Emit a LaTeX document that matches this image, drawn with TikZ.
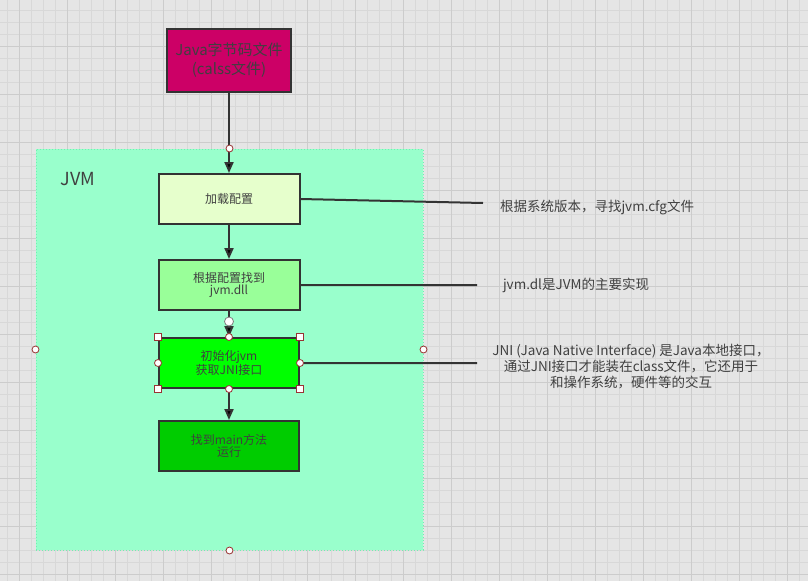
\documentclass[tikz,border=0pt]{standalone}
\usepackage{fontspec}
\setmainfont{Noto Sans CJK SC}
\usetikzlibrary{arrows.meta}
\definecolor{bggray}{HTML}{E5E5E5}
\definecolor{minorgrid}{HTML}{D8D8D8}
\definecolor{majorgrid}{HTML}{CCCCCC}
\definecolor{jvmgreen}{HTML}{99FFCC}
\definecolor{jvmedge}{HTML}{70F0B0}
\definecolor{inkgray}{HTML}{333333}
\definecolor{textgray}{HTML}{404040}
\definecolor{classfill}{HTML}{CC0066}
\definecolor{loadfill}{HTML}{E6FFCC}
\definecolor{dllfill}{HTML}{99FF99}
\definecolor{initfill}{HTML}{00FF00}
\definecolor{mainfill}{HTML}{00CC00}
\definecolor{handlered}{HTML}{993333}

\begin{document}
\begin{tikzpicture}[x=1pt,y=-1pt,
		box/.style={draw=inkgray, line width=2pt, text=textgray, align=center,
			minimum width=140pt, minimum height=50pt, inner sep=0pt,
			font=\fontsize{12}{12.5}\selectfont},
		note/.style={text=textgray, align=center, font=\fontsize{13.5}{16}\selectfont},
		handle/.style={circle, draw=handlered, fill=white, line width=0.8pt,
			minimum size=7pt, inner sep=0pt},
		sqhandle/.style={rectangle, draw=handlered, fill=white, line width=0.8pt,
			minimum size=7pt, inner sep=0pt},
		link/.style={draw=inkgray, line width=2pt}]
	\useasboundingbox (0,0) rectangle (808,581);
	% background grid
	\fill[bggray] (0,0) rectangle (808,581);
	\foreach \gx in {7,19,...,807} \draw[minorgrid, line width=1pt] (\gx,0) -- (\gx,581);
	\foreach \gy in {10,22,...,580} \draw[minorgrid, line width=1pt] (0,\gy) -- (808,\gy);
	\foreach \gx in {19,67,...,807} \draw[majorgrid, line width=1pt] (\gx,0) -- (\gx,581);
	\foreach \gy in {46,94,...,580} \draw[majorgrid, line width=1pt] (0,\gy) -- (808,\gy);
	% JVM container
	\node[draw=jvmedge, dotted, fill=jvmgreen, line width=1pt, minimum width=387pt,
		minimum height=401pt, inner sep=0pt] (jvm) at (229.5,349.5) {};
	\node[text=textgray, font=\fontsize{18}{18}\selectfont, anchor=west] (jvmlabel) at (57,179) {JVM};
	% boxes
	\node[box, fill=classfill, minimum width=124pt, minimum height=63pt,
		font=\fontsize{15}{19}\selectfont] (classfile) at (229,60.5) {Java字节码文件\\(calss文件)};
	\node[box, fill=loadfill, minimum width=141pt] (load) at (229,199) {加载配置};
	\node[box, fill=dllfill, minimum width=141pt] (dll) at (229,285) {根据配置找到\\jvm.dll};
	\node[box, fill=initfill] (init) at (229,363) {初始化jvm\\获取JNI接口};
	\node[box, fill=mainfill] (runmain) at (229,446) {找到main方法\\运行};
	% notes
	\node[note] (loadnote) at (597,207) {根据系统版本，寻找jvm.cfg文件};
	\node[note] (dllnote) at (576,285) {jvm.dl是JVM的主要实现};
	\node[note] (jninote) at (631,367) {JNI (Java Native Interface) 是Java本地接口，\\通过JNI接口才能装在class文件，它还用于\\和操作系统，硬件等的交互};
	\coordinate (loadend) at (483,203);
	\coordinate (dllend) at (477,285);
	\coordinate (jniend) at (477,363);
	\path[link] (load.east) -- (loadend)
		(dll.east) -- (dllend)
		(init.east) -- (jniend);
	\path[link, -{Triangle[length=11pt,width=9pt]}]
		(classfile) edge (load)
		(load) edge (dll)
		(dll) edge (init)
		(init) edge (runmain);
	% selection handles
	\node[handle] (jvmn) at (jvm.north) {};
	\node[handle] (jvmw) at (jvm.west) {};
	\node[handle] (jvme) at (jvm.east) {};
	\node[handle] (jvms) at (jvm.south) {};
	\node[handle, draw=gray, minimum size=9pt] (arrowend) at (229,321.5) {};
	\node[sqhandle] (initnw) at (init.north west) {};
	\node[sqhandle] (initne) at (init.north east) {};
	\node[sqhandle] (initsw) at (init.south west) {};
	\node[sqhandle] (initse) at (init.south east) {};
	\node[handle] (initn) at (init.north) {};
	\node[handle] (inits) at (init.south) {};
	\node[handle] (initw) at (init.west) {};
	\node[handle] (inite) at (init.east) {};
\end{tikzpicture}
\end{document}
